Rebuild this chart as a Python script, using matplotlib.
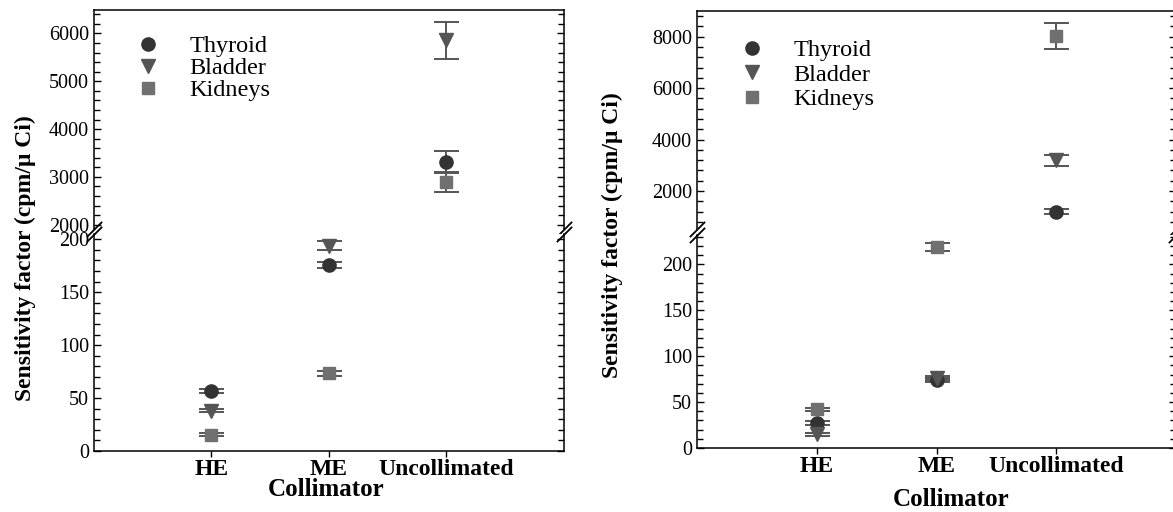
import matplotlib
matplotlib.use('Agg')
import matplotlib.pyplot as plt
from matplotlib.ticker import MultipleLocator
from matplotlib.lines import Line2D

plt.rcParams['font.family'] = ['Liberation Serif', 'DejaVu Serif']

categories = ['HE', 'ME', 'Uncollimated']
organs = ['Thyroid', 'Bladder', 'Kidneys']

# left panel
thyroid_a = [57, 176, 3320]
thyroid_a_err = [2, 3, 220]
bladder_a = [38, 194, 5860]
bladder_a_err = [1.5, 4, 390]
kidneys_a = [15.5, 73.5, 2890]
kidneys_a_err = [1.5, 2.5, 200]

# right panel
thyroid_b = [27, 74, 1200]
thyroid_b_err = [2, 2, 80]
bladder_b = [15, 76, 3190]
bladder_b_err = [1.5, 2, 210]
kidneys_b = [42, 219, 8030]
kidneys_b_err = [2, 4.5, 520]

markers = ['o', 'v', 's']
msizes = [9.5, 9.5, 8]
colors = ['#333333', '#555555', '#707070']
ecolor = '#555555'


def panel(fig, box_up, box_lo, series, ylim_up, ylim_lo, maj_up, min_up, leg_y, leg_sp):
    ax_up = fig.add_axes(box_up)
    ax_lo = fig.add_axes(box_lo)
    x = range(1, len(categories) + 1)
    for ax in (ax_up, ax_lo):
        for (vals, errs), m, ms, c in zip(series, markers, msizes, colors):
            ax.errorbar(x, vals, yerr=errs, fmt=m, ms=ms, color=c, mec=c,
                        ecolor=ecolor, elinewidth=1.4, capsize=9, capthick=1.4)
        ax.set_xlim(0, 4)
        for s in ax.spines.values():
            s.set_linewidth(1.1)
        ax.tick_params(axis='y', which='both', direction='in', left=True, right=True,
                       labelsize=14.5, length=5, width=1)
        ax.tick_params(axis='y', which='minor', length=4)
    ax_up.set_ylim(*ylim_up)
    ax_lo.set_ylim(*ylim_lo)
    ax_up.yaxis.set_major_locator(MultipleLocator(maj_up))
    ax_up.yaxis.set_minor_locator(MultipleLocator(min_up))
    ax_lo.yaxis.set_major_locator(MultipleLocator(50))
    ax_lo.yaxis.set_minor_locator(MultipleLocator(10))
    ax_up.spines['bottom'].set_visible(False)
    ax_lo.spines['top'].set_visible(False)
    ax_up.set_xticks([])
    ax_lo.set_xticks(list(x))
    ax_lo.set_xticklabels(categories, fontweight='bold', fontsize=17)
    ax_lo.tick_params(axis='x', direction='out', length=4, width=1, pad=1.5)

    # break marks
    kw = dict(marker=[(-1, -1), (1, 1)], markersize=11, linestyle='none',
              color='k', mec='k', mew=1.3, clip_on=False)
    ax_up.plot([0, 1], [0, 0], transform=ax_up.transAxes, **kw)
    ax_lo.plot([0, 1], [1, 1], transform=ax_lo.transAxes, **kw)

    handles = [Line2D([], [], marker=m, ms=ms, color=c, linestyle='none')
               for m, ms, c in zip(markers, msizes, colors)]
    ax_up.legend(handles, organs, loc='upper left', bbox_to_anchor=(0.09, leg_y),
                 frameon=False, fontsize=17.5, handlelength=1, handletextpad=1.2,
                 labelspacing=leg_sp, borderpad=0, borderaxespad=0)
    return ax_up, ax_lo


fig = plt.figure(figsize=(11.73, 5.12), dpi=100)

panel(fig, [0.0801, 0.5527, 0.4007, 0.4277], [0.0801, 0.1191, 0.4007, 0.4238],
      [(thyroid_a, thyroid_a_err), (bladder_a, bladder_a_err), (kidneys_a, kidneys_a_err)],
      (1910, 6490), (0, 205), 1000, 200, 0.885, 0.0)
panel(fig, [0.5942, 0.5527, 0.4084, 0.4258], [0.5942, 0.125, 0.4084, 0.416],
      [(thyroid_b, thyroid_b_err), (bladder_b, bladder_b_err), (kidneys_b, kidneys_b_err)],
      (520, 9000), (0, 232), 2000, 400, 0.87, 0.1)

ylab = 'Sensitivity factor (cpm/\u03bc Ci)'
fig.text(25 / 1173, 1 - 258 / 512, ylab, rotation=90, ha='center', va='center',
         fontsize=17, fontweight='bold')
fig.text(612 / 1173, 1 - 235 / 512, ylab, rotation=90, ha='center', va='center',
         fontsize=17, fontweight='bold')
fig.text(326 / 1173, 1 - 489 / 512, 'Collimator', ha='center', va='center',
         fontsize=18, fontweight='bold')
fig.text(951 / 1173, 1 - 500 / 512, 'Collimator', ha='center', va='center',
         fontsize=18, fontweight='bold')

fig.savefig('out.png', dpi=100)
